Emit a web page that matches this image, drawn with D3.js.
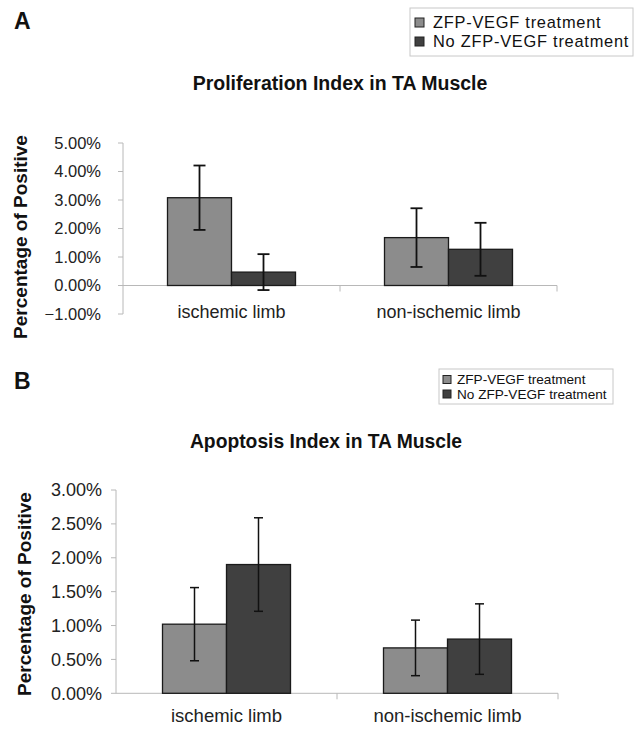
<!DOCTYPE html>
<html>
<head>
<meta charset="utf-8">
<script src="https://cdn.jsdelivr.net/npm/d3@7"></script>
<style>
  html, body { margin: 0; padding: 0; background: #fff; }
  svg { display: block; font-family: "Liberation Sans", Arial, Helvetica, sans-serif; }
</style>
</head>
<body>
<svg id="chart" width="644" height="729"></svg>
<script>
// ---- data ----
const categories = ["ischemic limb", "non-ischemic limb"];
const seriesNames = ["ZFP-VEGF treatment", "No ZFP-VEGF treatment"];

// Panel A: Proliferation Index (percent)
const prolifZFP = [3.08, 1.68];
const prolifZFPErr = [1.13, 1.03];
const prolifNo = [0.47, 1.27];
const prolifNoErr = [0.63, 0.93];
const prolifTicks = [-1, 0, 1, 2, 3, 4, 5];

// Panel B: Apoptosis Index (percent)
const apopZFP = [1.02, 0.67];
const apopZFPErr = [0.54, 0.41];
const apopNo = [1.90, 0.80];
const apopNoErr = [0.69, 0.52];
const apopTicks = [0, 0.5, 1, 1.5, 2, 2.5, 3];

const seriesColors = ["#8c8c8c", "#404040"];

const svg = d3.select("#chart");
const fmt = v => d3.format(".2f")(v) + "%";

function drawPanel(cfg) {
  const g = svg.append("g");
  const y = d3.scaleLinear().domain(cfg.domain).range([cfg.bottom, cfg.top]);
  const x0 = d3.scaleBand().domain(categories).range([cfg.left, cfg.right]);
  const groupW = cfg.groupW;
  const x1 = d3.scaleBand().domain(seriesNames).range([0, groupW]);
  const y0 = y(0);

  // y axis line
  g.append("line")
    .attr("x1", cfg.left).attr("x2", cfg.left)
    .attr("y1", y(cfg.domain[1])).attr("y2", y(cfg.domain[0]))
    .attr("stroke", "#b8b8b8").attr("stroke-width", 1);

  // ticks + labels
  const tg = g.selectAll(".tick").data(cfg.ticks).enter().append("g");
  tg.append("line")
    .attr("x1", cfg.left - 5).attr("x2", cfg.left)
    .attr("y1", d => y(d)).attr("y2", d => y(d))
    .attr("stroke", "#b8b8b8");
  tg.append("text")
    .attr("x", cfg.tickLabelX)
    .attr("y", d => y(d))
    .attr("dy", "0.36em")
    .attr("text-anchor", "end")
    .attr("font-size", cfg.tickFont)
    .attr("fill", "#222")
    .text(d => fmt(d));

  // category axis at zero
  g.append("line")
    .attr("x1", cfg.left).attr("x2", cfg.right)
    .attr("y1", y0).attr("y2", y0)
    .attr("stroke", "#b8b8b8");
  const bounds = categories.map(c => x0(c) + x0.bandwidth());
  g.selectAll(".ctick").data(bounds).enter().append("line")
    .attr("x1", d => d).attr("x2", d => d)
    .attr("y1", y0).attr("y2", y0 + 6)
    .attr("stroke", "#b8b8b8");

  // bars
  const rows = [];
  categories.forEach((c, i) => {
    cfg.values.forEach((vals, s) => {
      rows.push({ c, s, v: vals[i], e: cfg.errors[s][i] });
    });
  });
  const bx = d => x0(d.c) + (x0.bandwidth() - groupW) / 2 + x1(seriesNames[d.s]);
  g.selectAll(".bar").data(rows).enter().append("rect")
    .attr("x", bx)
    .attr("width", x1.bandwidth())
    .attr("y", d => Math.min(y(d.v), y0))
    .attr("height", d => Math.abs(y0 - y(d.v)))
    .attr("fill", d => seriesColors[d.s])
    .attr("stroke", "#1a1a1a")
    .attr("stroke-width", 1.3);

  // error bars
  const eg = g.selectAll(".err").data(rows).enter().append("g")
    .attr("stroke", "#111").attr("stroke-width", cfg.errW);
  const cx = d => bx(d) + x1.bandwidth() / 2;
  eg.append("line")
    .attr("x1", cx).attr("x2", cx)
    .attr("y1", d => y(d.v + d.e)).attr("y2", d => y(d.v - d.e));
  eg.append("line")
    .attr("x1", d => cx(d) - cfg.cap / 2).attr("x2", d => cx(d) + cfg.cap / 2)
    .attr("y1", d => y(d.v + d.e)).attr("y2", d => y(d.v + d.e));
  eg.append("line")
    .attr("x1", d => cx(d) - cfg.cap / 2).attr("x2", d => cx(d) + cfg.cap / 2)
    .attr("y1", d => y(d.v - d.e)).attr("y2", d => y(d.v - d.e));

  // category labels
  g.selectAll(".clab").data(categories).enter().append("text")
    .attr("x", d => x0(d) + x0.bandwidth() / 2)
    .attr("y", cfg.catY)
    .attr("text-anchor", "middle")
    .attr("font-size", cfg.catFont)
    .attr("fill", "#222")
    .text(d => d);

  // y label
  g.append("text")
    .attr("transform", `translate(${cfg.yLabX},${cfg.yLabY}) rotate(-90)`)
    .attr("text-anchor", "middle")
    .attr("font-size", 19)
    .attr("font-weight", "bold")
    .attr("fill", "#111")
    .text("Percentage of Positive");

  // title
  g.append("text")
    .attr("x", cfg.titleX).attr("y", cfg.titleY)
    .attr("text-anchor", "middle")
    .attr("font-size", cfg.titleFont)
    .attr("font-weight", "bold")
    .attr("fill", "#111")
    .text(cfg.title);

  // panel letter
  g.append("text")
    .attr("x", 14).attr("y", cfg.letterY)
    .attr("font-size", 23)
    .attr("font-weight", "bold")
    .attr("fill", "#111")
    .text(cfg.letter);

  // legend
  const L = cfg.legend;
  g.append("rect")
    .attr("x", L.x).attr("y", L.y).attr("width", L.w).attr("height", L.h)
    .attr("fill", "#fff").attr("stroke", "#c8c8c8").attr("stroke-width", 1);
  const lg = g.selectAll(".leg").data(seriesNames).enter().append("g")
    .attr("transform", (d, i) => `translate(${L.sx},${L.row0 + i * L.dy})`);
  lg.append("rect")
    .attr("x", 0).attr("y", -L.sw / 2).attr("width", L.sw).attr("height", L.sw)
    .attr("fill", (d, i) => seriesColors[i]).attr("stroke", "#222").attr("stroke-width", 1);
  lg.append("text")
    .attr("x", L.tx).attr("y", 0).attr("dy", "0.36em")
    .attr("font-size", L.font)
    .attr("letter-spacing", L.ls)
    .attr("fill", "#111")
    .text(d => d);
}

drawPanel({
  domain: [-1, 5], top: 143, bottom: 314, left: 123, right: 557, groupW: 128,
  ticks: prolifTicks, tickLabelX: 101, tickFont: 16.5,
  values: [prolifZFP, prolifNo], errors: [prolifZFPErr, prolifNoErr],
  errW: 1.8, cap: 12,
  catY: 318, catFont: 18,
  yLabX: 27, yLabY: 237,
  title: "Proliferation Index in TA Muscle", titleX: 340, titleY: 90, titleFont: 19.5,
  letter: "A", letterY: 29,
  legend: { x: 410, y: 8, w: 223, h: 48, sx: 415, row0: 22.5, dy: 19, sw: 9, tx: 18, font: 16.4, ls: 0.75 }
});

drawPanel({
  domain: [0, 3], top: 490, bottom: 693.3, left: 116, right: 558, groupW: 128,
  ticks: apopTicks, tickLabelX: 102, tickFont: 18,
  values: [apopZFP, apopNo], errors: [apopZFPErr, apopNoErr],
  errW: 1.5, cap: 9,
  catY: 722, catFont: 18.5,
  yLabX: 31, yLabY: 594,
  title: "Apoptosis Index in TA Muscle", titleX: 326, titleY: 448, titleFont: 19.3,
  letter: "B", letterY: 389,
  legend: { x: 439, y: 369, w: 174, h: 35, sx: 443, row0: 379.5, dy: 14.5, sw: 8, tx: 14, font: 13.6, ls: 0 }
});
</script>
</body>
</html>
